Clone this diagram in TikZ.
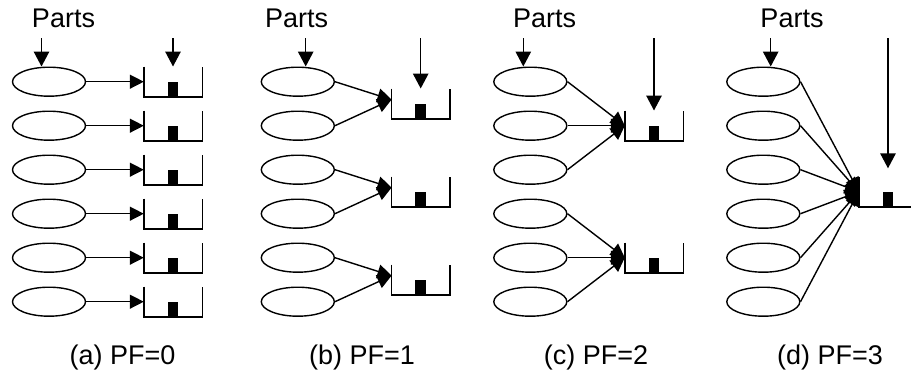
\documentclass[tikz,border=0pt]{standalone}
\usepackage{fontspec}
\setmainfont{Liberation Sans}
\usetikzlibrary{shapes.geometric,arrows.meta,calc}
\begin{document}
\begin{tikzpicture}[x=1pt,y=-1pt,
  part/.style={draw, ellipse, line width=1.4pt, minimum width=73pt, minimum height=29pt, inner sep=0pt},
  bin/.style={minimum width=58pt, minimum height=30pt, inner sep=0pt},
  flow/.style={line width=1.4pt, -{Triangle[length=14pt,width=14pt]}},
  feed/.style={line width=1.4pt, -{Triangle[length=15pt,width=15.5pt]}},
  txt/.style={font=\fontsize{27}{31}\selectfont, anchor=base, inner sep=0pt},
  token/.style={fill, minimum width=10.5pt, minimum height=14.5pt, inner sep=0pt, anchor=south}]
\useasboundingbox (0,0) rectangle (911,375);
\clip (0,0) rectangle (911,375);

% an open-top bin with a part inside
\newcommand\drawbin[1]{%
  \draw[line width=1.4pt] (#1.north west) |- (#1.south east) -- (#1.north east);
  \node[token] (#1tok) at (#1.south) {};}

% ---- (a) PF=0 ----
\node[txt] (pa) at (63.5,27) {Parts};
\foreach \k in {1,...,6} {
  \node[part] (a\k) at (49,{81.7+44*(\k-1)}) {};
  \node[bin] (ab\k) at (173,{81.7+44*(\k-1)}) {};
  \drawbin{ab\k}
  \draw[flow] (a\k.east) -- (ab\k.west);
}
\coordinate (pasrc) at (41.5,38);
\draw[feed] (pasrc) -- (pasrc |- a1.north);
\coordinate (absrc) at (173,38);
\draw[feed] (absrc) -- (ab1.north);
\node[txt] (capa) at (122.5,364) {(a) PF=0};

% ---- (b) PF=1 ----
\node[txt] (pb) at (296.7,27) {Parts};
\foreach \k in {1,...,6} {
  \node[part] (b\k) at (297.8,{81.7+44*(\k-1)}) {};
}
\foreach \j/\u/\l in {1/1/2, 2/3/4, 3/5/6} {
  \node[bin] (bb\j) at (420.7,{103.7+88*(\j-1)}) {};
  \drawbin{bb\j}
  \coordinate (bt\j) at ($(bb\j.west)+(0,-4)$);
  \draw[flow] (b\u.east) -- (bt\j);
  \draw[flow] (b\l.east) -- (bt\j);
}
\coordinate (pbsrc) at (305.7,38);
\draw[feed] (pbsrc) -- (pbsrc |- b1.north);
\coordinate (bbsrc) at (420.7,38);
\draw[feed] (bbsrc) -- (bb1.north);
\node[txt] (capb) at (362,364) {(b) PF=1};

% ---- (c) PF=2 ----
\node[txt] (pc) at (544.7,27) {Parts};
\foreach \k in {1,...,6} {
  \node[part] (c\k) at (530.3,{81.7+44*(\k-1)}) {};
}
\foreach \j/\m in {1/1, 2/4} {
  \node[bin] (cb\j) at (654,{81.7+44*\m}) {};
  \drawbin{cb\j}
}
\foreach \k in {1,2,3} { \draw[flow] (c\k.east) -- (cb1.west); }
\foreach \k in {4,5,6} { \draw[flow] (c\k.east) -- (cb2.west); }
\coordinate (pcsrc) at (523.3,38);
\draw[feed] (pcsrc) -- (pcsrc |- c1.north);
\coordinate (cbsrc) at (654,38);
\draw[feed] (cbsrc) -- (cb1.north);
\node[txt] (capc) at (596,364) {(c) PF=2};

% ---- (d) PF=3 ----
\node[txt] (pd) at (792,27) {Parts};
\node[bin] (db) at (888,191.7) {};
\drawbin{db}
\foreach \k in {1,...,6} {
  \node[part] (d\k) at (763.3,{81.7+44*(\k-1)}) {};
  \draw[flow] (d\k.east) -- (db.west);
}
\coordinate (pdsrc) at (770.7,38);
\draw[feed] (pdsrc) -- (pdsrc |- d1.north);
\coordinate (dbsrc) at (888,38);
\coordinate (dbend) at (888,168.3);
\draw[feed] (dbsrc) -- (dbend);
\node[txt] (capd) at (830,364) {(d) PF=3};
\end{tikzpicture}
\end{document}
